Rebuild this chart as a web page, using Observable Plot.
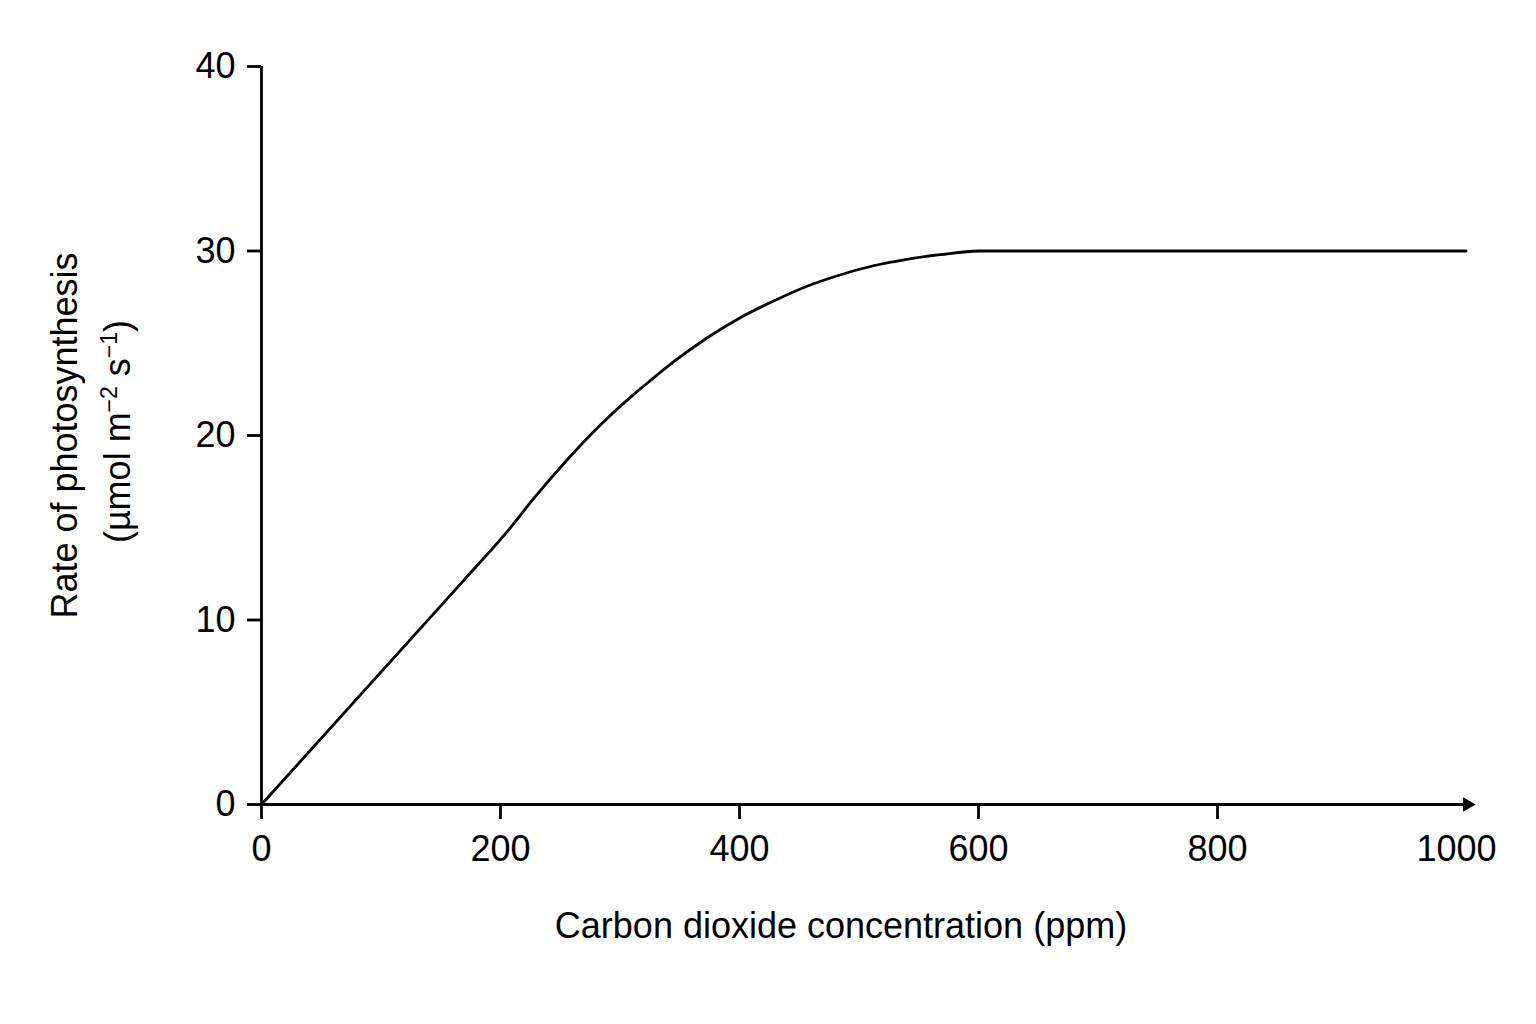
<!DOCTYPE html>
<html>
<head>
<meta charset="utf-8">
<script src="https://cdn.jsdelivr.net/npm/d3@7"></script>
<script src="https://cdn.jsdelivr.net/npm/@observablehq/plot@0.6"></script>
<style>
  html, body { margin: 0; padding: 0; background: #fff; overflow: hidden; }
</style>
</head>
<body>
<div id="chart"></div>
<script>
// CO2 concentration (ppm) and rate of photosynthesis (µmol m-2 s-1)
const co2  = [0, 170, 207, 228, 256, 284, 311, 324, 345, 373, 401, 429, 457, 484, 512, 540, 568, 600, 1008];
const rate = [0, 12.2, 14.9, 16.6, 18.7, 20.6, 22.2, 22.9, 24.0, 25.3, 26.4, 27.3, 28.1, 28.7, 29.2, 29.55, 29.8, 30, 30];

const xTicksMarked = [0, 200, 400, 600, 800];
const xTicksLabelOnly = [1000];
const yTicks = [0, 10, 20, 30, 40];

const xLabel = "Carbon dioxide concentration (ppm)";
const yLabel1 = "Rate of photosynthesis";
// [text, isSuperscript]
const yLabel2Parts = [["(µmol m", false], ["−2", true], [" s", false], ["−1", true], [")", false]];
const yLabel2 = yLabel2Parts.map(p => p[0]).join("");

const xAxisEnd = 1008;   // end of the drawn x-axis line
const xArrowAt = 1009;   // arrow head position

const data = co2.map((c, i) => ({co2: c, rate: rate[i]}));

const font = "'Liberation Sans', Arial, Helvetica, sans-serif";
const fs = 36;
const sw = 2.8;

const chart = Plot.plot({
  width: 1536,
  height: 1024,
  marginLeft: 261,
  marginRight: 80,
  marginTop: 66,
  marginBottom: 220,
  style: {fontFamily: font, fontSize: fs + "px", background: "#fff", color: "#000"},
  x: {domain: [0, 1000], label: null},
  y: {domain: [0, 40], label: null},
  marks: [
    // y axis
    Plot.axisY({ticks: yTicks, tickSize: 14, tickPadding: 12, tickFormat: "d", strokeWidth: sw, label: null, fontSize: fs}),
    Plot.ruleX([0], {y1: 0, y2: 40, strokeWidth: sw}),
    // x axis
    Plot.axisX({ticks: xTicksMarked, tickSize: 15, tickPadding: 16, tickFormat: "d", strokeWidth: sw, label: null, fontSize: fs}),
    Plot.axisX({ticks: xTicksLabelOnly, tickSize: 0, tickPadding: 31, tickFormat: "d", label: null, fontSize: fs}),
    Plot.ruleY([0], {x1: 0, x2: xAxisEnd, strokeWidth: sw}),
    Plot.dot([xArrowAt], {x: d => d, y: () => 0, symbol: "triangle", rotate: 90, r: 5.4, fill: "#000", stroke: null}),
    // curve
    Plot.line(data, {x: "co2", y: "rate", curve: "monotone-x", stroke: "#000", strokeWidth: sw}),
    // axis titles
    Plot.text([xLabel], {text: d => d, frameAnchor: "bottom", dx: -18, dy: 133, lineAnchor: "bottom", fontSize: fs, fill: "#000"}),
    Plot.text([yLabel1], {text: d => d, frameAnchor: "left", rotate: -90, dx: -185, dy: 0, lineAnchor: "bottom", textAnchor: "middle", fontSize: fs, fill: "#000"}),
    Plot.text([yLabel2], {text: d => d, frameAnchor: "left", rotate: -90, dx: -132, dy: -4, lineAnchor: "bottom", textAnchor: "middle", fontSize: fs, fill: "#000"})
  ]
});

// Render the unit exponents as real superscripts
const supSize = 23, supShift = 13;
chart.querySelectorAll("text").forEach(t => {
  if (t.textContent === yLabel2) {
    t.textContent = "";
    let raised = false;
    yLabel2Parts.forEach(([s, sup]) => {
      const ts = document.createElementNS("http://www.w3.org/2000/svg", "tspan");
      ts.textContent = s;
      if (sup) {
        ts.setAttribute("font-size", supSize);
        ts.setAttribute("dy", -supShift);
        raised = true;
      } else if (raised) {
        ts.setAttribute("dy", supShift);
        raised = false;
      }
      t.appendChild(ts);
    });
  }
});

document.getElementById("chart").appendChild(chart);
</script>
</body>
</html>
